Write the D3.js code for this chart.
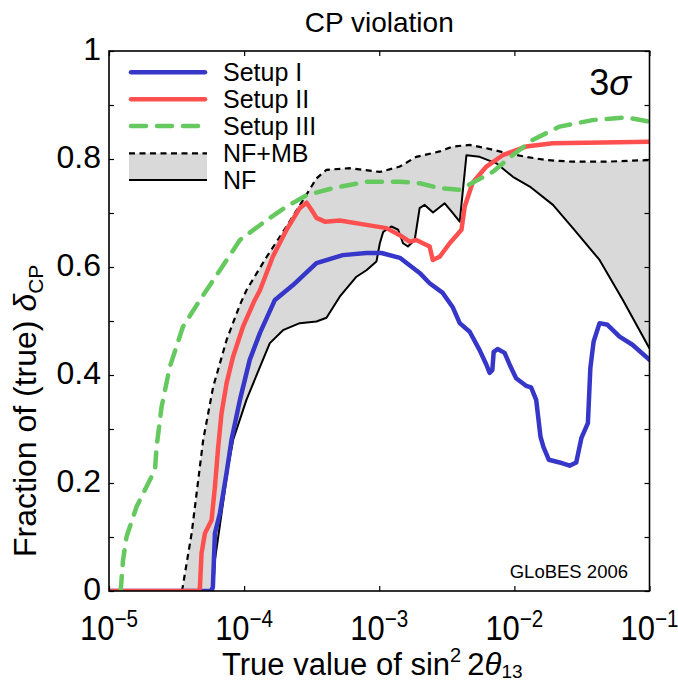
<!DOCTYPE html>
<html>
<head>
<meta charset="utf-8">
<script src="https://cdn.jsdelivr.net/npm/d3@7"></script>
<style>
  html, body { margin: 0; padding: 0; background: #fff; }
  svg { display: block; }
  text { font-family: "Liberation Sans", Arial, Helvetica, sans-serif; fill: #000; }
</style>
</head>
<body>
<svg id="chart" width="678" height="682"></svg>
<script>
// ---------------- DATA ----------------
const xTickValues = [1e-5, 1e-4, 1e-3, 1e-2, 1e-1];
const xTickExponents = ["\u22125", "\u22124", "\u22123", "\u22122", "\u22121"];
const yTickValues = [0, 0.1, 0.2, 0.3, 0.4, 0.5, 0.6, 0.7, 0.8, 0.9, 1];
const yLabelValues = [0, 0.2, 0.4, 0.6, 0.8, 1];
const yLabelTexts = ["0", "0.2", "0.4", "0.6", "0.8", "1"];

const seriesNames = ["Setup I", "Setup II", "Setup III", "NF+MB", "NF"];

// Setup I (blue)
const setupI = [
  [1e-5, 0], [5.67e-5, 0], [5.87e-5, 0.007], [6.08e-5, 0.107], [6.62e-5, 0.144],
  [7.42e-5, 0.219], [8.07e-5, 0.280], [9.31e-5, 0.354], [1.10e-4, 0.428], [1.31e-4, 0.478],
  [1.69e-4, 0.539], [2.29e-4, 0.566], [3.43e-4, 0.607], [5.37e-4, 0.622], [8.04e-4, 0.626],
  [1.04e-3, 0.626], [1.42e-3, 0.617], [1.99e-3, 0.589], [2.36e-3, 0.570], [2.95e-3, 0.552],
  [3.49e-3, 0.526], [3.94e-3, 0.496], [4.67e-3, 0.480], [5.53e-3, 0.446], [6.21e-3, 0.419],
  [6.56e-3, 0.404], [6.87e-3, 0.409], [7.03e-3, 0.443], [7.52e-3, 0.448], [8.47e-3, 0.441],
  [9.23e-3, 0.419], [1.03e-2, 0.394], [1.22e-2, 0.380], [1.33e-2, 0.377], [1.45e-2, 0.354],
  [1.56e-2, 0.286], [1.64e-2, 0.267], [1.80e-2, 0.243], [2.16e-2, 0.238], [2.56e-2, 0.232],
  [2.87e-2, 0.238], [3.13e-2, 0.283], [3.50e-2, 0.311], [3.65e-2, 0.413], [3.86e-2, 0.462],
  [4.27e-2, 0.496], [4.89e-2, 0.493], [6.00e-2, 0.471], [7.48e-2, 0.456], [1e-1, 0.428]
];

// Setup II (red)
const setupII = [
  [1e-5, 0], [4.65e-5, 0], [4.71e-5, 0.007], [4.84e-5, 0.070], [5.13e-5, 0.107],
  [5.74e-5, 0.131], [6.08e-5, 0.193], [6.43e-5, 0.267], [6.81e-5, 0.330], [7.42e-5, 0.385],
  [8.26e-5, 0.433], [9.79e-5, 0.489], [1.20e-4, 0.539], [1.31e-4, 0.557], [1.63e-4, 0.619],
  [2.06e-4, 0.669], [2.58e-4, 0.709], [2.90e-4, 0.719], [3.15e-4, 0.706], [3.43e-4, 0.691],
  [3.96e-4, 0.684], [5.10e-4, 0.686], [8.04e-4, 0.678], [1.13e-3, 0.672], [1.42e-3, 0.659],
  [1.68e-3, 0.647], [1.88e-3, 0.650], [2.36e-3, 0.638], [2.49e-3, 0.613], [2.80e-3, 0.619],
  [3.32e-3, 0.644], [4.06e-3, 0.669], [4.29e-3, 0.712], [4.91e-3, 0.756], [6.21e-3, 0.786],
  [8.19e-3, 0.807], [1.22e-2, 0.823], [1.92e-2, 0.829], [3.40e-2, 0.830], [1e-1, 0.832]
];

// Setup III (green, dashed)
const setupIII = [
  [1.22e-5, 0], [1.27e-5, 0.057], [1.35e-5, 0.101], [1.60e-5, 0.156], [2.01e-5, 0.206],
  [2.19e-5, 0.224], [2.25e-5, 0.267], [2.45e-5, 0.341], [2.82e-5, 0.415], [3.52e-5, 0.489],
  [4.71e-5, 0.539], [6.62e-5, 0.594], [9.31e-5, 0.650], [1.47e-4, 0.687], [2.06e-4, 0.712],
  [2.90e-4, 0.733], [4.53e-4, 0.746], [8.04e-4, 0.758], [1.42e-3, 0.758], [1.99e-3, 0.755],
  [2.80e-3, 0.746], [3.94e-3, 0.743], [4.91e-3, 0.756], [6.90e-3, 0.776], [9.70e-3, 0.807],
  [1.36e-2, 0.835], [2.16e-2, 0.860], [3.79e-2, 0.872], [6.73e-2, 0.877], [1e-1, 0.869]
];

// NF+MB (upper edge of band, dashed black)
const nfMB = [
  [3.47e-5, 0], [4.09e-5, 0.107], [4.45e-5, 0.181], [4.98e-5, 0.280], [5.90e-5, 0.378],
  [7.42e-5, 0.465], [9.31e-5, 0.530], [1.04e-4, 0.557], [1.47e-4, 0.619], [2.06e-4, 0.675],
  [2.73e-4, 0.724], [3.43e-4, 0.764], [4.07e-4, 0.780], [6.06e-4, 0.783], [1.01e-3, 0.776],
  [1.42e-3, 0.786], [1.88e-3, 0.804], [2.80e-3, 0.814], [3.49e-3, 0.823], [4.67e-3, 0.826],
  [6.21e-3, 0.820], [8.73e-3, 0.811], [1.22e-2, 0.804], [1.72e-2, 0.798], [2.70e-2, 0.795],
  [4.79e-2, 0.795], [7.48e-2, 0.797], [1e-1, 0.798]
];

// NF (lower edge of band, solid black)
const nf = [
  [1e-5, 0], [5.90e-5, 0], [6.08e-5, 0.057], [6.81e-5, 0.144], [7.62e-5, 0.230],
  [8.30e-5, 0.280], [1.04e-4, 0.354], [1.31e-4, 0.415], [1.55e-4, 0.459], [1.94e-4, 0.483],
  [2.58e-4, 0.496], [3.43e-4, 0.499], [4.07e-4, 0.506], [5.10e-4, 0.545], [6.78e-4, 0.582],
  [8.04e-4, 0.594], [9.53e-4, 0.610], [1.01e-3, 0.644], [1.07e-3, 0.665], [1.23e-3, 0.675],
  [1.38e-3, 0.669], [1.50e-3, 0.644], [1.63e-3, 0.638], [1.83e-3, 0.650], [1.99e-3, 0.709],
  [2.17e-3, 0.715], [2.50e-3, 0.701], [3.05e-3, 0.718], [3.47e-3, 0.701], [3.94e-3, 0.684],
  [4.42e-3, 0.807], [5.53e-3, 0.804], [7.36e-3, 0.792], [9.75e-3, 0.767], [1.30e-2, 0.749],
  [1.93e-2, 0.715], [2.71e-2, 0.672], [4.27e-2, 0.613], [6.35e-2, 0.539], [1e-1, 0.449]
];

// ---------------- STYLE ----------------
const C = {
  blue: "#3636c9",
  red: "#ff4f4f",
  green: "#66c95f",
  band: "#d9d9d9",
  black: "#000"
};

const svg = d3.select("#chart");
const pLeft = 109, pRight = 649.5, pTop = 51, pBottom = 591;

const x = d3.scaleLog().domain([1e-5, 1e-1]).range([pLeft, pRight]);
const y = d3.scaleLinear().domain([0, 1]).range([pBottom, pTop]);

const line = d3.line().x(d => x(d[0])).y(d => y(d[1])).curve(d3.curveLinear);

svg.append("clipPath").attr("id", "plotclip")
  .append("rect").attr("x", pLeft).attr("y", pTop - 3).attr("width", pRight - pLeft).attr("height", pBottom - pTop + 3);

const plot = svg.append("g").attr("clip-path", "url(#plotclip)");

// band polygon: NF+MB forward, NF backward
const bandPts = nfMB.concat(nf.slice().reverse());
plot.append("path")
  .attr("d", line(bandPts) + "Z")
  .attr("fill", C.band).attr("stroke", "none");

plot.append("path").attr("d", line(nf))
  .attr("fill", "none").attr("stroke", C.black).attr("stroke-width", 2)
  .attr("stroke-linejoin", "round");
plot.append("path").attr("d", line(nfMB))
  .attr("fill", "none").attr("stroke", C.black).attr("stroke-width", 2.2)
  .attr("stroke-dasharray", "6,4.5");

plot.append("path").attr("d", line(setupI))
  .attr("fill", "none").attr("stroke", C.blue).attr("stroke-width", 4.5)
  .attr("stroke-linejoin", "round").attr("stroke-linecap", "round");
plot.append("path").attr("d", line(setupII))
  .attr("fill", "none").attr("stroke", C.red).attr("stroke-width", 4.5)
  .attr("stroke-linejoin", "round").attr("stroke-linecap", "round");
plot.append("path").attr("d", line(setupIII))
  .attr("fill", "none").attr("stroke", C.green).attr("stroke-width", 4.5)
  .attr("stroke-linejoin", "round").attr("stroke-linecap", "round")
  .attr("stroke-dasharray", "15,11");

// ---------------- AXES / FRAME ----------------
const tickLen = 5;
function styleAxis(g) {
  g.select(".domain").remove();
  g.selectAll("line").attr("stroke", "#000").attr("stroke-width", 1.2);
}
svg.append("g").attr("transform", `translate(0,${pBottom})`)
  .call(d3.axisBottom(x).tickValues(xTickValues).tickSizeInner(-tickLen).tickSizeOuter(0).tickFormat(() => ""))
  .call(styleAxis);
svg.append("g").attr("transform", `translate(0,${pTop})`)
  .call(d3.axisTop(x).tickValues(xTickValues).tickSizeInner(-tickLen).tickSizeOuter(0).tickFormat(() => ""))
  .call(styleAxis);
svg.append("g").attr("transform", `translate(${pLeft},0)`)
  .call(d3.axisLeft(y).tickValues(yTickValues).tickSizeInner(-tickLen).tickSizeOuter(0).tickFormat(() => ""))
  .call(styleAxis);
svg.append("g").attr("transform", `translate(${pRight},0)`)
  .call(d3.axisRight(y).tickValues(yTickValues).tickSizeInner(-tickLen).tickSizeOuter(0).tickFormat(() => ""))
  .call(styleAxis);

svg.append("rect").attr("x", pLeft).attr("y", pTop).attr("width", pRight - pLeft).attr("height", pBottom - pTop)
  .attr("fill", "none").attr("stroke", "#000").attr("stroke-width", 1.6);

// y tick labels
svg.append("g").selectAll("text").data(yLabelValues).join("text")
  .attr("x", 101).attr("y", d => y(d)).attr("dy", "0.28em")
  .attr("text-anchor", "end").attr("font-size", 32)
  .text((d, i) => yLabelTexts[i]);

// x tick labels (10^n)
const xl = svg.append("g").selectAll("g").data(xTickValues).join("g")
  .attr("transform", d => `translate(${x(d)},640) scale(0.86,1)`);
const xt = xl.append("text").attr("text-anchor", "middle").attr("font-size", 36);
xt.append("tspan").text("10");
xt.append("tspan").attr("font-size", 24).attr("dy", -13).text((d, i) => xTickExponents[i]);

// axis titles
const xTitle = svg.append("text").attr("x", 222).attr("y", 675).attr("font-size", 31);
xTitle.append("tspan").text("True value of sin");
xTitle.append("tspan").attr("font-size", 20).attr("dy", -13).text("2");
xTitle.append("tspan").attr("dy", 13).text("\u20092");
xTitle.append("tspan").attr("font-style", "italic").text("\u03B8");
xTitle.append("tspan").attr("font-size", 19).attr("dy", 3).text("13");

const yTitle = svg.append("text").attr("transform", "translate(36,557) rotate(-90)").attr("font-size", 32);
yTitle.append("tspan").text("Fraction of (true) ");
yTitle.append("tspan").attr("font-style", "italic").text("\u03B4");
yTitle.append("tspan").attr("font-size", 21).attr("dy", 7).text("CP");

// title
svg.append("text").attr("x", (pLeft + pRight) / 2).attr("y", 32).attr("text-anchor", "middle")
  .attr("font-size", 28).text("CP violation");

// 3 sigma
const sig = svg.append("text").attr("x", 631).attr("y", 95).attr("text-anchor", "end").attr("font-size", 36);
sig.append("tspan").text("3");
sig.append("tspan").attr("font-style", "italic").text("\u03C3");

// GLoBES
svg.append("text").attr("x", 628).attr("y", 578).attr("text-anchor", "end").attr("font-size", 18.5)
  .text("GLoBES 2006");

// ---------------- LEGEND ----------------
const lgX0 = 131, lgX1 = 205, lgText = 223;
const lgY = [72.3, 99.3, 126, 153.3, 180];
const lg = svg.append("g");
lg.append("rect").attr("x", lgX0 - 2).attr("y", lgY[3]).attr("width", lgX1 - lgX0 + 4).attr("height", lgY[4] - lgY[3])
  .attr("fill", C.band);
lg.append("line").attr("x1", lgX0 - 2).attr("x2", lgX1 + 2).attr("y1", lgY[3]).attr("y2", lgY[3])
  .attr("stroke", "#000").attr("stroke-width", 2.2).attr("stroke-dasharray", "6,4.5");
lg.append("line").attr("x1", lgX0 - 2).attr("x2", lgX1 + 2).attr("y1", lgY[4]).attr("y2", lgY[4])
  .attr("stroke", "#000").attr("stroke-width", 2);
lg.append("line").attr("x1", lgX0).attr("x2", lgX1).attr("y1", lgY[0]).attr("y2", lgY[0])
  .attr("stroke", C.blue).attr("stroke-width", 4.5).attr("stroke-linecap", "round");
lg.append("line").attr("x1", lgX0).attr("x2", lgX1).attr("y1", lgY[1]).attr("y2", lgY[1])
  .attr("stroke", C.red).attr("stroke-width", 4.5).attr("stroke-linecap", "round");
lg.append("line").attr("x1", lgX0).attr("x2", lgX1).attr("y1", lgY[2]).attr("y2", lgY[2])
  .attr("stroke", C.green).attr("stroke-width", 4.5).attr("stroke-linecap", "round")
  .attr("stroke-dasharray", "15,11");
lg.selectAll("text.lt").data(seriesNames).join("text").attr("class", "lt")
  .attr("x", lgText).attr("y", (d, i) => lgY[i] + 8.5).attr("font-size", 25)
  .text(d => d);
</script>
</body>
</html>
